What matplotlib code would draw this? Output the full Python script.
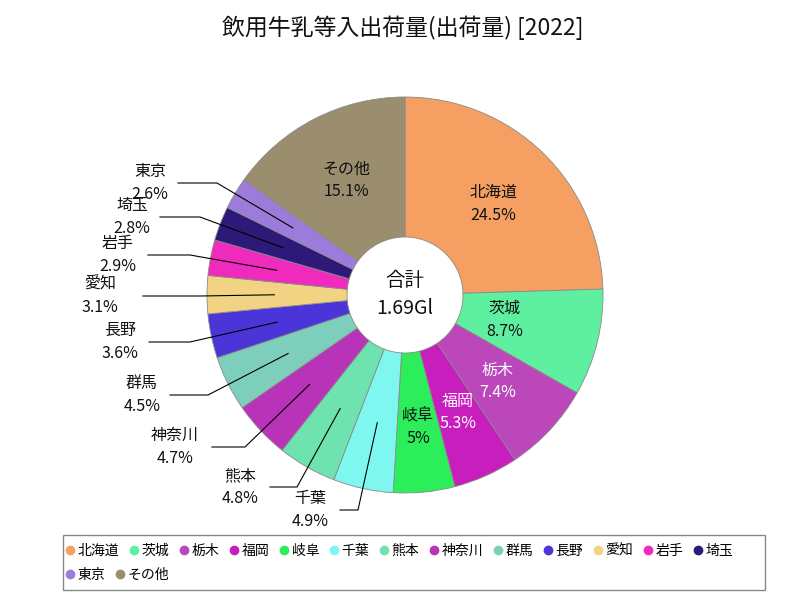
import matplotlib
matplotlib.use('Agg')
import matplotlib.pyplot as plt
import numpy as np
from matplotlib.lines import Line2D
from matplotlib.patches import Rectangle

plt.rcParams['font.family'] = ['Noto Sans CJK JP', 'DejaVu Sans']

# data
prefs = ['北海道', '茨城', '栃木', '福岡', '岐阜', '千葉', '熊本', '神奈川',
         '群馬', '長野', '愛知', '岩手', '埼玉', '東京', 'その他']
shares = [24.5, 8.7, 7.4, 5.3, 5.0, 4.9, 4.8, 4.7, 4.5, 3.6, 3.1, 2.9, 2.8, 2.6, 15.1]
pct_labels = ['24.5%', '8.7%', '7.4%', '5.3%', '5%', '4.9%', '4.8%', '4.7%',
              '4.5%', '3.6%', '3.1%', '2.9%', '2.8%', '2.6%', '15.1%']
colors = ['#F5A062', '#5EEFA0', '#BB47BB', '#C81EBE', '#2BEE5A', '#7DF7F0',
          '#6EE3B0', '#B833B8', '#7DCFBB', '#4B35D8', '#F2D383', '#F02ABD',
          '#2D1A78', '#9D7BDB', '#9A8E6E']
total_label = '1.69Gl'
title = '飲用牛乳等入出荷量(出荷量) [2022]'

# layout (pixel space, y measured from top)
W, H = 800, 600
cx, cy, R, r_hole = 405, 295, 198, 58

def px(x, y):
    return x, H - y

inside = {'北海道': 0.64, '茨城': 0.52, '栃木': 0.64, '福岡': 0.65, '岐阜': 0.67, 'その他': 0.65}
white_text = {'栃木', '福岡'}
# outside labels: text x, line y, line start x, elbow x
outside = {
    '東京': (150, 183, 178, 217),
    '埼玉': (132, 217, 160, 200),
    '岩手': (118, 255, 148, 190),
    '愛知': (100, 296, 143, 200),
    '長野': (120, 342, 149, 190),
    '群馬': (142, 395, 170, 208),
    '神奈川': (175, 447, 212, 245),
    '熊本': (240, 487, 270, 297),
    '千葉': (310, 510, 340, 358),
}

fig = plt.figure(figsize=(8, 6), dpi=100)
ax = fig.add_axes([0, 0, 1, 1])

wedges, _ = ax.pie(shares, colors=colors, startangle=90, counterclock=False,
                   center=px(cx, cy), radius=R,
                   wedgeprops=dict(width=R - r_hole, edgecolor='#8a8a8a', linewidth=0.6))
ax.set_xlim(0, W)
ax.set_ylim(0, H)
ax.set_aspect('equal')
ax.axis('off')

txt_color = '#111111'
ccx, ccy = px(cx, cy)
for w, name, pct in zip(wedges, prefs, pct_labels):
    ang = np.deg2rad((w.theta1 + w.theta2) / 2)
    if name in inside:
        rr = inside[name] * R
        ax.text(ccx + rr * np.cos(ang), ccy + rr * np.sin(ang), f'{name}\n{pct}',
                ha='center', va='center', fontsize=11.5, linespacing=1.45,
                color='white' if name in white_text else txt_color)
    else:
        tx, ly, lx0, ex = outside[name]
        ax_, ay_ = ccx + 0.66 * R * np.cos(ang), ccy + 0.66 * R * np.sin(ang)
        ax.plot([lx0, ex, ax_], [H - ly, H - ly, ay_], color='black', lw=0.8)
        ax.text(tx, H - ly, f'{name}\n{pct}', ha='center', va='center',
                fontsize=11.5, linespacing=1.45, color=txt_color)

ax.text(ccx, H - 280, '合計', ha='center', va='center', fontsize=14, color=txt_color)
ax.text(ccx, H - 309, total_label, ha='center', va='center', fontsize=14, color=txt_color)

fig.text(403 / W, 1 - 28 / H, title, ha='center', va='center', fontsize=16.5, color=txt_color)

# legend: two flowing rows inside one frame
def legend_row(idx, top):
    hs = [Line2D([], [], marker='o', linestyle='none', markersize=6,
                 markerfacecolor=colors[i], markeredgecolor=colors[i]) for i in idx]
    leg = fig.legend(hs, [prefs[i] for i in idx], loc='upper left',
                     bbox_to_anchor=(66 / W, 1 - top / H), ncol=len(idx), fontsize=10,
                     handlelength=0.6, handletextpad=0.25, columnspacing=0.75,
                     borderpad=0, borderaxespad=0, frameon=False)
    return leg

legend_row(list(range(13)), 544)
legend_row([13, 14], 568)
fig.patches.append(Rectangle((63 / W, 1 - 590 / H), 702 / W, 55 / H,
                             transform=fig.transFigure, fill=False,
                             edgecolor='#888888', linewidth=1.0))

fig.savefig('out.png', dpi=100)
